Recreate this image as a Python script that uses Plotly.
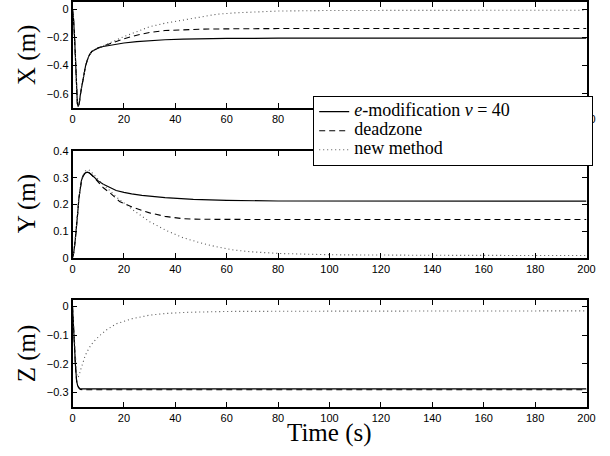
import plotly.graph_objects as go

# ---------------- data ----------------
# X (m)
t_x_early = [0, 0.4, 0.8, 1.2, 1.55, 1.9, 2.2, 2.6, 3.2, 3.8, 4.5, 5.1, 5.8, 6.4, 7.5, 8.7, 10]
x_early = [0, -0.07, -0.2, -0.4, -0.59, -0.67, -0.69, -0.67, -0.59, -0.52, -0.45, -0.40, -0.36, -0.33, -0.30, -0.285, -0.275]

t_x_emod = [12, 16, 20, 25, 30, 36, 43, 50, 60, 80, 120, 200]
x_emod = [-0.265, -0.25, -0.24, -0.23, -0.223, -0.217, -0.213, -0.21, -0.208, -0.206, -0.205, -0.205]

t_x_dz = [12, 16, 20, 25, 30, 36, 43, 50, 60, 80, 200]
x_dz = [-0.262, -0.235, -0.21, -0.185, -0.165, -0.152, -0.145, -0.142, -0.14, -0.138, -0.137]

t_x_new = [12, 16, 20, 25, 30, 36, 43, 50, 56, 63, 70, 80, 100, 200]
x_new = [-0.26, -0.225, -0.195, -0.16, -0.125, -0.1, -0.077, -0.052, -0.037, -0.027, -0.02, -0.014, -0.01, -0.008]

# Y (m)
t_y_early = [0, 0.5, 1.0, 1.5, 2.0, 2.5, 3.0, 3.5, 4.2, 5.0, 5.8, 6.5, 7.5, 8.5]
y_early = [0, 0.02, 0.06, 0.105, 0.165, 0.224, 0.265, 0.29, 0.308, 0.318, 0.321, 0.318, 0.31, 0.30]

t_y_emod = [10, 12, 15, 17, 20, 23, 27, 30, 36, 47, 60, 80, 120, 200]
y_emod = [0.288, 0.275, 0.26, 0.252, 0.245, 0.239, 0.234, 0.231, 0.225, 0.219, 0.215, 0.2125, 0.212, 0.212]

t_y_dz = [10, 12, 14.6, 18.3, 23.4, 30, 36, 43, 50, 80, 200]
y_dz = [0.282, 0.262, 0.243, 0.211, 0.189, 0.168, 0.155, 0.146, 0.144, 0.143, 0.143]

t_y_new = [0, 0.5, 1.0, 1.5, 2.0, 2.5, 3.0, 3.5, 4.2, 5.0, 6.3, 8, 10, 14, 18, 23.4, 30, 36.5, 43, 49.6, 56, 62.6, 69, 80, 100, 140, 200]
y_new = [0, 0.02, 0.06, 0.105, 0.165, 0.224, 0.265, 0.292, 0.312, 0.325, 0.33, 0.315, 0.293, 0.255, 0.22, 0.18, 0.135, 0.102, 0.075, 0.056, 0.041, 0.029, 0.0225, 0.016, 0.011, 0.009, 0.008]

# Z (m)
t_z_early = [0, 0.3, 0.6, 0.85, 1.1, 1.35, 1.6, 2.0, 2.4, 3.0]
z_early = [0, -0.04, -0.086, -0.15, -0.2, -0.235, -0.26, -0.276, -0.284, -0.288]

t_z_tail = [5, 50, 100, 150, 200]
z_emod_tail = [-0.2875, -0.2875, -0.2875, -0.2875, -0.2875]
z_dz_tail = [-0.2905, -0.2905, -0.2905, -0.2905, -0.2905]

t_z_new = [0, 0.6, 1.1, 1.6, 2.1, 2.6, 3.2, 3.9, 5, 6.5, 8, 10.4, 13, 17, 23.4, 30, 36.4, 45, 60, 100, 200]
z_new = [0, -0.086, -0.19, -0.235, -0.248, -0.24, -0.22, -0.197, -0.17, -0.144, -0.125, -0.103, -0.083, -0.06, -0.042, -0.03, -0.024, -0.02, -0.017, -0.016, -0.015]

series_names = ["<i>e</i>-modification <i>ν</i> = 40", "deadzone", "new method"]
time_ticks = [0, 20, 40, 60, 80, 100, 120, 140, 160, 180, 200]
x_ticks = [0, -0.2, -0.4, -0.6]
y_ticks = [0, 0.1, 0.2, 0.3, 0.4]
z_ticks = [0, -0.1, -0.2, -0.3]

# ---------------- styles ----------------
W, H = 610, 456
styles = [
    dict(color="black", width=1.2, dash="solid"),
    dict(color="black", width=1.1, dash="6px,4px"),
    dict(color="#555555", width=1.1, dash="1px,3px"),
]
PAD = "\u00a0" * 17   # widens the legend frame like the reference

x0, x1 = 72.5 / W, 586.5 / W
panels = [
    (1 - 108 / H, 1 - 2 / H),
    (1 - 257.7 / H, 1 - 151 / H),
    (1 - 406.7 / H, 1 - 300 / H),
]

fig = go.Figure()

def add(t, v, k, axis_i, show):
    xa = "x" if axis_i == 1 else f"x{axis_i}"
    ya = "y" if axis_i == 1 else f"y{axis_i}"
    name = series_names[k] + (PAD if k == 0 else "")
    fig.add_trace(go.Scatter(x=t, y=v, mode="lines", line=styles[k],
                             name='<span style="font-size:18px">' + name + "</span>",
                             showlegend=show, xaxis=xa, yaxis=ya, hoverinfo="skip"))

# X panel
add(t_x_early + t_x_emod, x_early + x_emod, 0, 1, True)
add(t_x_early + t_x_dz, x_early + x_dz, 1, 1, True)
add(t_x_early + t_x_new, x_early + x_new, 2, 1, True)
# Y panel
add(t_y_early + t_y_emod, y_early + y_emod, 0, 2, False)
add(t_y_early + t_y_dz, y_early + y_dz, 1, 2, False)
add(t_y_new, y_new, 2, 2, False)
# Z panel
add(t_z_early + t_z_tail, z_early + z_emod_tail, 0, 3, False)
add(t_z_early[:-1] + [3.0] + t_z_tail, z_early[:-1] + [-0.29] + z_dz_tail, 1, 3, False)
add(t_z_new, z_new, 2, 3, False)

tickfont = dict(family="Liberation Sans, Arial, sans-serif", size=11, color="black")
common_x = dict(range=[0, 200], tickvals=time_ticks, ticks="inside", ticklen=5,
                tickwidth=1, tickcolor="black", showline=True, linecolor="black",
                linewidth=1.5, mirror="ticks", showgrid=False, zeroline=False,
                tickfont=tickfont, domain=[x0, x1], automargin=False)
common_y = dict(ticks="inside", ticklen=5, tickwidth=1, tickcolor="black",
                showline=True, linecolor="black", linewidth=1.5, mirror="ticks",
                showgrid=False, zeroline=False, tickfont=tickfont, automargin=False)

fig.update_layout(
    width=W, height=H, autosize=False,
    margin=dict(l=0, r=0, t=0, b=0, pad=0),
    paper_bgcolor="white", plot_bgcolor="white",
    xaxis=dict(common_x, anchor="y"),
    xaxis2=dict(common_x, anchor="y2"),
    xaxis3=dict(common_x, anchor="y3"),
    yaxis=dict(common_y, range=[-0.7, 0.05], tickvals=x_ticks, domain=list(panels[0]), anchor="x"),
    yaxis2=dict(common_y, range=[0, 0.4], tickvals=y_ticks, domain=list(panels[1]), anchor="x2"),
    yaxis3=dict(common_y, range=[-0.35, 0.023], tickvals=z_ticks, domain=list(panels[2]), anchor="x3"),
    showlegend=True,
    legend=dict(x=313 / W, y=1 - 96 / H, xanchor="left", yanchor="top",
                orientation="v",
                bgcolor="white", bordercolor="black", borderwidth=1.2,
                font=dict(family="Liberation Serif, Times New Roman, serif", size=12, color="black"),
                tracegroupgap=0, itemwidth=30),
)

serif = dict(family="Liberation Serif, Times New Roman, serif", size=25, color="black")
for label, (d0, d1) in zip(["X (m)", "Y (m)", "Z (m)"], panels):
    fig.add_annotation(text=label, xref="paper", yref="paper", x=27 / W, y=(d0 + d1) / 2,
                       xanchor="center", yanchor="middle", textangle=-90, showarrow=False,
                       font=serif)
fig.add_annotation(text="Time (s)", xref="paper", yref="paper", x=(x0 + x1) / 2, y=1 - 433 / H,
                   xanchor="center", yanchor="middle", showarrow=False, font=serif)

fig.write_html("out.html", config={"displayModeBar": False},
               post_script="document.body.style.margin='0';document.body.style.padding='0';")
